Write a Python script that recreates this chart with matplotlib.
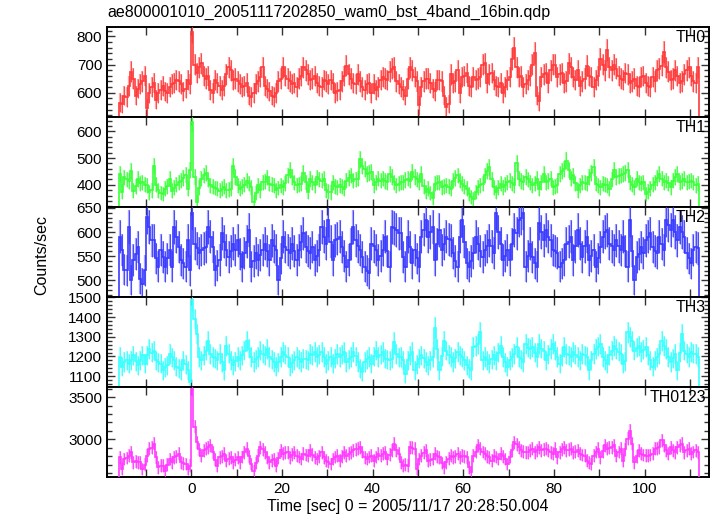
import numpy as np
import matplotlib
matplotlib.use("Agg")
import matplotlib.pyplot as plt
from matplotlib.ticker import MultipleLocator

plt.rcParams['font.family'] = ['Liberation Sans', 'DejaVu Sans']

BIN_WIDTH = 0.5
T_START = -16.0

th0 = [
    565, 560, 590, 585, 625, 675, 650, 590, 615, 630, 640, 660, 545, 600, 620, 635,
    575, 600, 610, 625, 605, 600, 620, 630, 635, 645, 640, 630, 605, 615, 645, 630,
    815, 700, 670, 690, 705, 660, 650, 660, 610, 600, 645, 635, 625, 610, 625, 665,
    690, 680, 645, 650, 640, 630, 620, 625, 635, 590, 585, 600, 630, 640, 655, 690,
    625, 615, 605, 590, 585, 600, 640, 650, 690, 660, 650, 640, 630, 635, 620, 650,
    660, 690, 680, 665, 645, 650, 660, 635, 625, 620, 645, 640, 630, 645, 635, 600,
    605, 610, 640, 660, 695, 665, 650, 635, 630, 665, 640, 620, 610, 630, 635, 600,
    630, 610, 620, 645, 655, 650, 645, 675, 685, 690, 640, 630, 620, 610, 590, 650,
    690, 680, 655, 640, 555, 620, 640, 650, 650, 635, 615, 605, 645, 645, 640, 590,
    550, 560, 665, 635, 640, 680, 600, 655, 660, 670, 625, 620, 655, 645, 650, 655,
    700, 705, 635, 665, 670, 645, 625, 620, 635, 600, 620, 645, 655, 720, 760, 690,
    655, 660, 620, 630, 645, 660, 700, 740, 590, 570, 655, 665, 670, 635, 680, 700,
    700, 655, 665, 670, 635, 640, 705, 690, 655, 645, 680, 625, 640, 650, 695, 660,
    655, 620, 645, 660, 720, 700, 680, 750, 690, 680, 700, 685, 660, 650, 645, 670,
    665, 635, 640, 650, 625, 620, 655, 660, 635, 625, 620, 655, 640, 680, 685, 695,
    745, 690, 675, 645, 650, 680, 660, 635, 640, 665, 680, 690, 660, 640, 635, 690,
]

th1 = [
    440, 375, 428, 420, 415, 452, 378, 395, 422, 405, 410, 400, 398, 372, 380, 470,
    400, 380, 370, 365, 385, 395, 422, 378, 390, 400, 410, 416, 425, 436, 385, 455,
    635, 430, 335, 390, 423, 435, 445, 420, 398, 392, 388, 385, 378, 385, 392, 380,
    382, 386, 470, 430, 398, 385, 392, 400, 416, 405, 391, 335, 370, 398, 380, 410,
    412, 428, 404, 400, 398, 379, 388, 398, 391, 405, 435, 454, 430, 410, 398, 402,
    404, 445, 410, 375, 422, 410, 398, 428, 420, 416, 423, 380, 375, 372, 410, 395,
    391, 398, 392, 385, 416, 425, 435, 416, 420, 423, 495, 470, 460, 441, 445, 448,
    398, 410, 423, 416, 423, 415, 410, 441, 430, 410, 398, 404, 410, 410, 418, 423,
    416, 448, 429, 420, 410, 440, 395, 373, 385, 370, 350, 404, 408, 410, 391, 395,
    398, 392, 385, 416, 425, 435, 416, 404, 395, 385, 366, 355, 348, 373, 391, 398,
    404, 435, 450, 465, 420, 391, 373, 390, 404, 391, 400, 410, 416, 405, 398, 480,
    423, 415, 410, 429, 420, 410, 398, 405, 423, 385, 410, 440, 410, 415, 423, 391,
    395, 398, 441, 450, 460, 490, 455, 423, 435, 405, 379, 398, 410, 408, 404, 429,
    445, 465, 404, 398, 391, 404, 400, 398, 385, 420, 455, 429, 432, 435, 441, 445,
    455, 410, 400, 391, 423, 410, 404, 410, 366, 375, 385, 400, 410, 425, 441, 423,
    410, 416, 405, 391, 416, 430, 441, 410, 415, 423, 410, 412, 416, 410, 398, 404,
]

th2 = [
    590, 562, 522, 521, 611, 500, 542, 555, 569, 503, 493, 521, 632, 611, 583, 583,
    545, 528, 562, 549, 528, 545, 562, 528, 611, 590, 569, 542, 535, 528, 583, 521,
    639, 576, 566, 556, 562, 566, 569, 611, 590, 569, 521, 530, 542, 597, 580, 562,
    549, 560, 576, 562, 583, 555, 528, 556, 580, 604, 528, 540, 556, 542, 552, 562,
    576, 560, 542, 583, 570, 562, 500, 545, 590, 569, 562, 556, 576, 560, 542, 562,
    580, 597, 569, 560, 556, 569, 542, 550, 562, 611, 590, 576, 625, 580, 542, 583,
    586, 590, 569, 550, 528, 542, 575, 611, 583, 570, 562, 549, 528, 520, 514, 576,
    570, 562, 542, 550, 562, 590, 560, 528, 611, 608, 604, 597, 597, 549, 528, 590,
    569, 535, 562, 545, 528, 590, 605, 625, 590, 600, 611, 542, 575, 604, 562, 575,
    590, 585, 583, 556, 540, 528, 590, 625, 580, 535, 528, 540, 556, 590, 576, 560,
    549, 562, 570, 583, 570, 556, 639, 600, 576, 542, 550, 562, 542, 575, 604, 597,
    625, 630, 639, 528, 550, 576, 549, 535, 528, 618, 600, 583, 604, 590, 583, 562,
    560, 556, 528, 535, 542, 576, 580, 590, 542, 570, 604, 576, 549, 570, 590, 542,
    550, 562, 528, 545, 569, 590, 600, 604, 576, 570, 562, 583, 570, 562, 590, 560,
    528, 625, 560, 500, 549, 555, 569, 556, 583, 590, 597, 569, 560, 556, 590, 575,
    562, 625, 615, 604, 625, 600, 583, 611, 600, 590, 556, 545, 535, 562, 569, 566,
]

th3 = [
    1197, 1147, 1172, 1180, 1163, 1180, 1205, 1175, 1155, 1180, 1205, 1163, 1205, 1238, 1220, 1230,
    1180, 1170, 1163, 1130, 1145, 1155, 1213, 1195, 1180, 1147, 1140, 1130, 1180, 1160, 1130, 1072,
    1485, 1390, 1313, 1197, 1180, 1205, 1230, 1280, 1213, 1197, 1190, 1180, 1213, 1170, 1130, 1255,
    1215, 1180, 1155, 1175, 1197, 1180, 1205, 1230, 1280, 1240, 1197, 1172, 1185, 1197, 1230, 1215,
    1205, 1238, 1197, 1185, 1172, 1147, 1170, 1197, 1222, 1210, 1197, 1147, 1165, 1180, 1197, 1185,
    1172, 1188, 1185, 1180, 1213, 1205, 1222, 1197, 1210, 1222, 1197, 1163, 1180, 1197, 1163, 1190,
    1213, 1197, 1210, 1222, 1172, 1185, 1197, 1222, 1200, 1172, 1140, 1122, 1172, 1185, 1197, 1163,
    1200, 1230, 1197, 1210, 1222, 1188, 1185, 1180, 1188, 1272, 1213, 1195, 1197, 1180, 1113, 1180,
    1205, 1222, 1130, 1160, 1188, 1205, 1190, 1172, 1155, 1180, 1197, 1347, 1238, 1130, 1200, 1280,
    1230, 1210, 1197, 1172, 1190, 1222, 1205, 1195, 1180, 1155, 1140, 1130, 1247, 1255, 1263, 1322,
    1180, 1197, 1180, 1163, 1185, 1205, 1180, 1220, 1255, 1197, 1170, 1147, 1180, 1195, 1213, 1247,
    1197, 1185, 1172, 1263, 1245, 1238, 1247, 1220, 1197, 1263, 1240, 1230, 1180, 1210, 1238, 1263,
    1230, 1197, 1163, 1200, 1247, 1213, 1205, 1197, 1222, 1210, 1197, 1180, 1213, 1205, 1197, 1130,
    1180, 1213, 1238, 1250, 1263, 1197, 1180, 1163, 1205, 1230, 1255, 1238, 1225, 1213, 1163, 1175,
    1322, 1300, 1280, 1230, 1245, 1255, 1222, 1235, 1247, 1205, 1180, 1147, 1180, 1195, 1213, 1280,
    1255, 1238, 1197, 1172, 1190, 1213, 1130, 1220, 1313, 1230, 1215, 1197, 1222, 1215, 1213, 1197,
]

th0123 = [
    2788, 2648, 2768, 2780, 2808, 2848, 2728, 2740, 2728, 2728, 2648, 2700, 2808, 2888, 2900, 2948,
    2788, 2668, 2690, 2688, 2628, 2700, 2768, 2728, 2788, 2800, 2828, 2728, 2715, 2708, 2648, 2688,
    3600, 3150, 2968, 2880, 2808, 2868, 2890, 2908, 2928, 2848, 2760, 2688, 2788, 2800, 2828, 2748,
    2770, 2788, 2728, 2760, 2788, 2728, 2790, 2848, 2888, 2800, 2708, 2628, 2720, 2808, 2908, 2880,
    2848, 2788, 2728, 2750, 2768, 2688, 2780, 2868, 2828, 2840, 2848, 2788, 2820, 2848, 2808, 2790,
    2768, 2828, 2815, 2808, 2868, 2820, 2788, 2768, 2800, 2848, 2788, 2748, 2730, 2708, 2768, 2790,
    2808, 2748, 2800, 2848, 2808, 2830, 2848, 2868, 2880, 2888, 2908, 2850, 2788, 2768, 2790, 2808,
    2748, 2790, 2828, 2808, 2830, 2848, 2768, 2820, 2868, 2948, 2868, 2830, 2728, 2688, 2700, 2688,
    2908, 2900, 2888, 2648, 2768, 2808, 2840, 2868, 2748, 2760, 2768, 2828, 2800, 2788, 2720, 2668,
    2728, 2770, 2808, 2788, 2800, 2828, 2788, 2808, 2800, 2788, 2668, 2608, 2808, 2850, 2928, 2888,
    2850, 2828, 2800, 2788, 2748, 2808, 2790, 2768, 2828, 2800, 2768, 2708, 2790, 2868, 2968, 2940,
    2908, 2868, 2855, 2848, 2848, 2870, 2888, 2848, 2870, 2908, 2868, 2880, 2888, 2868, 2845, 2828,
    2888, 2788, 2848, 2880, 2908, 2868, 2875, 2888, 2848, 2855, 2868, 2828, 2815, 2808, 2748, 2725,
    2708, 2808, 2850, 2888, 2788, 2860, 2928, 2888, 2900, 2908, 2928, 2808, 2850, 2888, 2748, 2880,
    3008, 3100, 2948, 2728, 2800, 2868, 2828, 2815, 2808, 2808, 2815, 2828, 2888, 2895, 2908, 2988,
    2930, 2868, 2828, 2908, 2870, 2848, 2908, 2930, 2948, 2848, 2870, 2888, 2828, 2850, 2868, 2848,
]

series = [th0, th1, th2, th3, th0123]
labels = ["TH0", "TH1", "TH2", "TH3", "TH0123"]
colors = ["#ff3a3a", "#3aff3a", "#3a3aff", "#3affff", "#ff3aff"]
ylims = [(514, 833), (317, 654), (465, 652), (1045, 1502), (2554, 3619)]
ymajor = [100, 100, 50, 100, 500]
yminor = [20, 20, 10, 20, 100]

title = "ae800001010_20051117202850_wam0_bst_4band_16bin.qdp"
xlabel = "Time [sec] 0 = 2005/11/17 20:28:50.004"
ylabel = "Counts/sec"

W, H = 717, 516
fig = plt.figure(figsize=(W / 100, H / 100), dpi=100)
left, right = 107, 709
top0, ph = 27, 90

for k, (vals, lab, col) in enumerate(zip(series, labels, colors)):
    vals = np.asarray(vals, dtype=float)
    n = len(vals)
    edges = T_START + BIN_WIDTH * np.arange(n + 1)
    centers = 0.5 * (edges[:-1] + edges[1:])
    err = np.sqrt(vals / BIN_WIDTH)
    bottom = H - (top0 + ph * (k + 1))
    ax = fig.add_axes([left / W, bottom / H, (right - left) / W, ph / H])
    ax.errorbar(centers, vals, yerr=err, fmt='none', ecolor=col, elinewidth=1.6,
                alpha=0.45, zorder=2)
    ax.errorbar(centers, vals, yerr=err, fmt='none', ecolor=col, elinewidth=0.7,
                alpha=0.85, zorder=3)
    ax.stairs(vals, edges, color=col, lw=1.2, zorder=4)
    ax.set_xlim(-18.57, 114.2)
    ax.set_ylim(*ylims[k])
    ax.xaxis.set_major_locator(MultipleLocator(20))
    ax.xaxis.set_minor_locator(MultipleLocator(10))
    ax.yaxis.set_major_locator(MultipleLocator(ymajor[k]))
    ax.yaxis.set_minor_locator(MultipleLocator(yminor[k]))
    ax.tick_params(which='both', direction='in', top=True, right=True,
                   labelsize=11, width=1.0, color='#333333')
    ax.tick_params(which='major', length=6)
    ax.tick_params(which='minor', length=3.5)
    ax.tick_params(axis='x', which='minor', length=6)
    for sp in ax.spines.values():
        sp.set_linewidth(1.4)
    if k < 4:
        ax.tick_params(labelbottom=False)
    else:
        ax.set_xlabel(xlabel, fontsize=11.5, labelpad=2)
    ax.text(0.995, 0.97, lab, transform=ax.transAxes, ha='right', va='top',
            fontsize=11.5)
    if k == 0:
        ax.set_title(title, loc='left', fontsize=11.5, pad=7)

fig.text(42 / W, 1 - 255 / H, ylabel, rotation=90, ha='center', va='center',
         fontsize=11.5)

fig.savefig("out.png", dpi=100)
